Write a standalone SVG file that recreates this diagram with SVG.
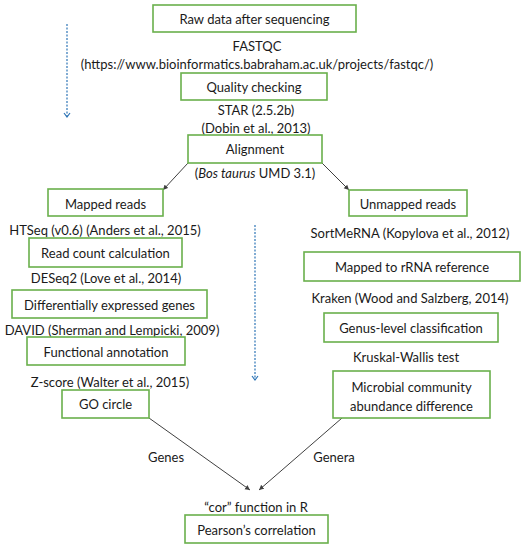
<svg xmlns="http://www.w3.org/2000/svg" width="524" height="550" viewBox="0 0 524 550">
<style>
.box{fill:#fff;stroke:#6ab04c;stroke-width:1.6}
text{font-family:Lato,"Liberation Sans",sans-serif;font-size:13px;fill:#1a1a1a;text-anchor:middle;dominant-baseline:central}
.ln{stroke:#404040;stroke-width:1;fill:none}
.dash{stroke:#2e75b6;stroke-width:1.2;stroke-dasharray:2,1.5;fill:none}
</style>
<defs>
<marker id="ah" markerWidth="6" markerHeight="6" refX="5" refY="3" orient="auto" markerUnits="userSpaceOnUse"><path d="M0,0.5 L5,3 L0,5.5 Z" fill="#404040"/></marker>
<marker id="bh" markerWidth="8" markerHeight="8" refX="4" refY="6" orient="0" markerUnits="userSpaceOnUse"><path d="M1,2 L4,6 L7,2" fill="none" stroke="#2e75b6" stroke-width="1.2"/></marker>
</defs>
<rect width="524" height="550" fill="#fff"/>
<g id="connectors">
<line class="dash" x1="67" y1="24" x2="67" y2="117" marker-end="url(#bh)"/>
<line class="dash" x1="255" y1="225" x2="255" y2="380" marker-end="url(#bh)"/>
<line class="ln" x1="188" y1="163" x2="163" y2="190" marker-end="url(#ah)"/>
<line class="ln" x1="322" y1="163" x2="349" y2="190" marker-end="url(#ah)"/>
<line class="ln" x1="149" y1="418" x2="250" y2="490" marker-end="url(#ah)"/>
<line class="ln" x1="342" y1="418" x2="259" y2="490" marker-end="url(#ah)"/>
<text x="166" y="457">Genes</text>
<text x="334" y="457">Genera</text>
</g>
<g id="raw"><rect class="box" x="153" y="5" width="203" height="27"/><text x="254.5" y="19">Raw data after sequencing</text></g>
<g id="fastqc"><text x="257" y="46">FASTQC</text><text x="257" y="64">(https://www.bioinformatics.babraham.ac.uk/projects/fastqc/)</text></g>
<g id="quality"><rect class="box" x="181" y="73" width="146" height="27"/><text x="254" y="87">Quality checking</text></g>
<g id="star"><text x="256" y="110">STAR (2.5.2b)</text><text x="256" y="128">(Dobin et al., 2013)</text></g>
<g id="alignment"><rect class="box" x="188" y="135" width="134" height="28"/><text x="255" y="149">Alignment</text><text x="255" y="173">(<tspan font-style="italic">Bos taurus</tspan> UMD 3.1)</text></g>
<g id="mapped"><rect class="box" x="48" y="189" width="115" height="27"/><text x="105.5" y="204">Mapped reads</text></g>
<g id="unmapped"><rect class="box" x="349" y="190" width="118" height="26"/><text x="408" y="204">Unmapped reads</text></g>
<g id="htseq"><text x="105" y="230">HTSeq (v0.6) (Anders et al., 2015)</text></g>
<g id="readcount"><rect class="box" x="29" y="238" width="153" height="29"/><text x="105.5" y="253">Read count calculation</text></g>
<g id="deseq"><text x="106" y="278">DESeq2 (Love et al., 2014)</text></g>
<g id="deg"><rect class="box" x="12" y="290" width="195" height="28"/><text x="109.5" y="305">Differentially expressed genes</text></g>
<g id="david"><text x="112" y="330">DAVID (Sherman and Lempicki, 2009)</text></g>
<g id="func"><rect class="box" x="27" y="337" width="158" height="28"/><text x="106" y="352">Functional annotation</text></g>
<g id="zscore"><text x="110" y="382">Z-score (Walter et al., 2015)</text></g>
<g id="gocircle"><rect class="box" x="62" y="390" width="87" height="28"/><text x="105.5" y="404">GO circle</text></g>
<g id="sortmerna"><text x="410" y="233">SortMeRNA (Kopylova et al., 2012)</text></g>
<g id="rrna"><rect class="box" x="304" y="252" width="216" height="29"/><text x="412" y="267">Mapped to rRNA reference</text></g>
<g id="kraken"><text x="410" y="298">Kraken (Wood and Salzberg, 2014)</text></g>
<g id="genus"><rect class="box" x="324" y="313" width="174" height="29"/><text x="411" y="328">Genus-level classification</text></g>
<g id="kruskal"><text x="406" y="357">Kruskal-Wallis test</text></g>
<g id="microbial"><rect class="box" x="333" y="371" width="157" height="47"/><text x="411.5" y="387">Microbial community</text><text x="411.5" y="406">abundance difference</text></g>
<g id="cor"><text x="256" y="507">“cor” function in R</text></g>
<g id="pearson"><rect class="box" x="185" y="515" width="143" height="28"/><text x="256.5" y="530">Pearson’s correlation</text></g>
</svg>
